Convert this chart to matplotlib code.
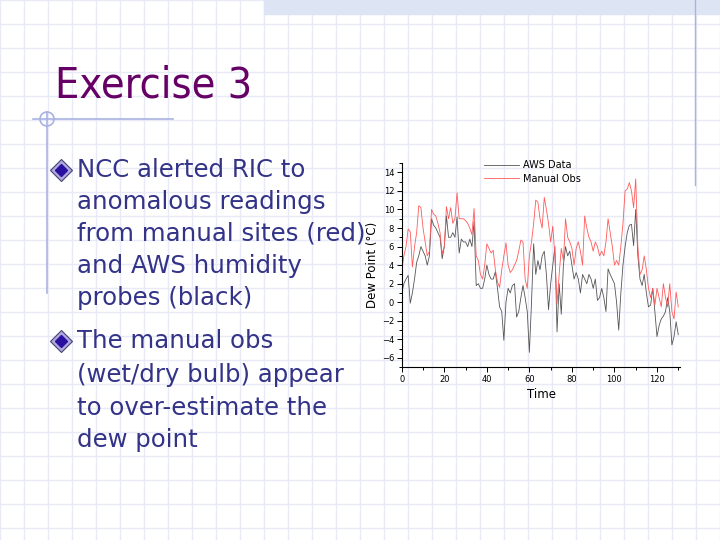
"""Slide 'Exercise 3': AWS vs manual dew point observations"""

import matplotlib
import matplotlib.pyplot as plt
import numpy as np
from matplotlib.patches import Circle, Rectangle
from matplotlib.ticker import MultipleLocator

matplotlib.use("Agg")

# --- data ---
aws_data = [
    1.0, 2.0, 2.5, 2.9, -0.1, 1.0, 2.5, 4.3, 5.0, 6.0,
    5.5, 5.0, 4.0, 5.0, 9.0, 8.3, 8.0, 7.5, 7.0, 4.7,
    6.0, 9.3, 7.0, 7.0, 7.5, 7.0, 9.2, 5.3, 6.8, 6.5,
    6.5, 6.0, 6.8, 6.0, 8.7, 1.8, 2.0, 1.5, 1.5, 2.5,
    4.0, 3.0, 2.5, 2.5, 3.3, 1.5, -0.5, -1.0, -4.1, 0.0,
    1.5, 1.0, 1.8, 2.0, -1.6, -1.0, 0.5, 1.8, 0.5, -1.0,
    -5.4, 0.0, 6.3, 3.0, 4.5, 3.5, 5.0, 5.5, 3.0, -0.8,
    2.0, 4.0, 6.0, -3.2, 2.0, -1.3, 4.0, 6.0, 5.0, 5.5,
    4.0, 2.5, 3.2, 2.5, 1.0, 3.0, 2.5, 2.0, 3.0, 2.5,
    1.5, 2.5, 0.2, 0.5, 1.5, 0.5, -1.0, 3.6, 3.0, 2.5,
    2.0, 0.0, -3.0, 1.0, 4.0, 6.0, 7.5, 8.3, 8.4, 6.1,
    10.0, 5.0, 2.5, 1.8, 3.0, 1.0, -0.5, -0.3, 1.5, -1.0,
    -3.7, -2.5, -1.8, -1.5, -1.0, 0.5, -1.0, -4.6, -3.7, -2.1,
    -3.5,
]
manual_obs = [
    3.5, 5.0, 6.0, 7.9, 7.6, 3.8, 6.0, 7.5, 10.4, 10.2,
    8.0, 6.5, 5.0, 5.5, 10.0, 9.5, 9.3, 8.5, 7.5, 5.2,
    6.0, 10.3, 9.0, 10.2, 8.5, 9.0, 11.8, 9.0, 9.0, 9.0,
    8.8, 8.5, 8.0, 7.3, 10.1, 5.0, 4.5, 3.0, 2.5, 4.0,
    6.3, 5.8, 5.3, 5.6, 3.5, 2.2, 1.6, 3.5, 5.0, 6.4,
    4.0, 3.2, 3.5, 4.0, 4.5, 5.5, 6.7, 6.5, 2.5, 1.5,
    5.0, 6.5, 8.5, 11.0, 10.8, 9.0, 8.0, 11.3, 10.0, 8.5,
    6.5, 8.2, 5.0, -0.2, 3.0, 5.8, 4.5, 9.0, 7.0, 6.5,
    5.8, 4.0, 5.8, 6.5, 5.5, 4.0, 9.3, 8.0, 7.0, 6.5,
    5.5, 6.5, 6.0, 5.0, 5.5, 5.0, 6.5, 9.0, 7.5, 6.0,
    4.0, 4.5, 4.0, 6.0, 8.5, 12.0, 12.2, 12.9, 12.0, 10.2,
    13.3, 6.0, 3.0, 3.5, 5.0, 3.5, 1.5, 0.5, 1.5, -0.3,
    1.5, 0.5, -0.5, 2.0, 0.5, -0.5, 2.0, -1.0, -1.8, 1.1,
    -0.5,
]
time = np.arange(len(aws_data))

title = "Exercise 3"
bullets = [
    ["NCC alerted RIC to", "anomalous readings", "from manual sites (red)",
     "and AWS humidity", "probes (black)"],
    ["The manual obs", "(wet/dry bulb) appear", "to over-estimate the",
     "dew point"],
]

TEXT_BLUE = "#333388"
GRID_BLUE = "#e8eaf7"

fig = plt.figure(figsize=(7.2, 5.4), dpi=100)

# slide background in pixel coordinates
bg = fig.add_axes([0, 0, 1, 1])
bg.set_xlim(0, 720)
bg.set_ylim(540, 0)
bg.axis("off")
for gx in range(0, 721, 24):
    bg.axvline(gx, color=GRID_BLUE, lw=1, zorder=0)
for gy in range(0, 541, 24):
    bg.axhline(gy, color=GRID_BLUE, lw=1, zorder=0)
bg.add_patch(Rectangle((264, 0), 456, 14, color="#dde4f3", zorder=1))
bg.plot([695, 695], [0, 185], color="#a9b3e2", lw=1, zorder=1)
bg.plot([33, 173], [119, 119], color="#a9b3e2", lw=1.2, zorder=1)
bg.plot([47, 47], [112, 293], color="#a9b3e2", lw=1.2, zorder=1)
bg.add_patch(Circle((47, 119), 7, fill=False, ec="#a9b3e2", lw=1.2, zorder=1))

bg.text(55, 86, title, color="#660066", fontsize=31, va="center",
        fontstretch="condensed", zorder=3)

line_y = [170, 202, 234, 266, 298, 341, 375, 408, 440]
k = 0
for lines in bullets:
    bg.plot(61, line_y[k], marker="D", ms=11, mfc="#b0a8dc", mec="#444477",
            mew=0.8, zorder=3)
    bg.plot(61, line_y[k], marker="D", ms=6.5, mfc="#2a10a0", mec="#2a10a0",
            zorder=4)
    for txt in lines:
        bg.text(77, line_y[k], txt, color=TEXT_BLUE, fontsize=17.6,
                va="center", zorder=3)
        k += 1

# chart
ax = fig.add_axes([0.558, 0.320, 0.387, 0.378])
ax.patch.set_alpha(0)
ax.plot(time, aws_data, color="#555555", lw=0.6, label="AWS Data")
ax.plot(time, manual_obs, color="#ff5a5a", lw=0.6, label="Manual Obs")
ax.set_xlim(0, 131)
ax.set_ylim(-7, 15)
ax.set_xticks(range(0, 121, 20))
ax.set_yticks(range(-6, 15, 2))
ax.xaxis.set_minor_locator(MultipleLocator(10))
ax.yaxis.set_minor_locator(MultipleLocator(1))
ax.tick_params(which="both", direction="out", labelsize=6, pad=2, width=0.7)
ax.tick_params(which="major", length=3.5)
ax.tick_params(which="minor", length=2)
for side in ["top", "right"]:
    ax.spines[side].set_visible(False)
for side in ["left", "bottom"]:
    ax.spines[side].set_linewidth(0.8)
ax.set_xlabel("Time", fontsize=8.5, labelpad=3)
ax.set_ylabel("Dew Point (°C)", fontsize=8.5, labelpad=2)
ax.legend(loc="upper left", bbox_to_anchor=(0.666, 0.712),
          bbox_transform=fig.transFigure, frameon=False, fontsize=7,
          handlelength=3.6, handletextpad=0.4, labelspacing=0.35, borderpad=0)

fig.savefig("out.png", dpi=100)
